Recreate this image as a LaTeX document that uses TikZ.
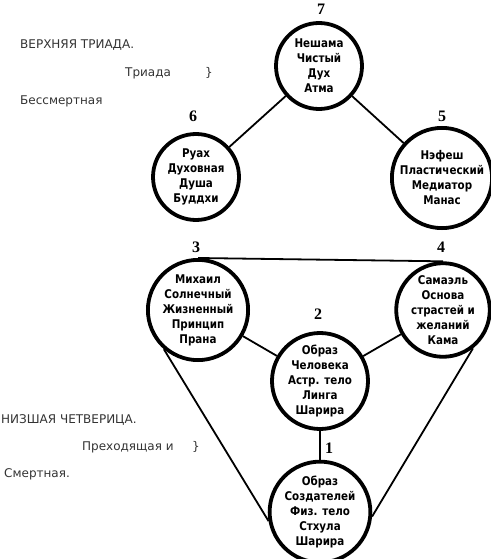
\documentclass[tikz,border=0pt]{standalone}
\usepackage{fontspec}
\setmainfont{DejaVu Sans}
\newfontfamily\numfont{Liberation Serif}
\newfontfamily\circfont[FakeStretch=0.86]{DejaVu Sans}
\begin{document}
\begin{tikzpicture}[x=1pt,y=-1pt,
  circ/.style={circle, draw, fill=white, line width=3.8pt, minimum size=86pt, inner sep=0pt, align=center,
    font=\circfont\bfseries\fontsize{12}{15}\selectfont},
  num/.style={font=\numfont\bfseries\fontsize{16}{16}\selectfont, inner sep=0pt},
  side/.style={anchor=base west, inner sep=0pt, text=black!80, font=\fontsize{12}{14}\selectfont},
  conn/.style={line width=1.8pt}]
\useasboundingbox (0,0) rectangle (490,559);
% circles
\node[circ] (c7) at (319,66) {Нешама\\Чистый\\Дух\\Атма};
\node[circ] (c6) at (196,177) {Руах\\Духовная\\Душа\\Буддхи};
\node[circ] (c5) at (442,178) {Нэфеш\\Пластический\\Медиатор\\Манас};
\node[circ] (c3) at (198,310) {Михаил\\Солнечный\\Жизненный\\Принцип\\Прана};
\node[circ] (c4) at (443,310) {Самаэль\\Основа\\страстей и\\желаний\\Кама};
\node[circ] (c2) at (320,381) {Образ\\Человека\\Астр. тело\\Линга\\Шарира};
\node[circ] (c1) at (320,512) {Образ\\Создателей\\Физ. тело\\Стхула\\Шарира};
% connectors
\draw[conn] (c7) -- (c6);
\draw[conn] (c7) -- (c5);
\draw[conn] (c3) -- (c2);
\draw[conn] (c4) -- (c2);
\draw[conn] (c2) -- (c1);
\draw[conn] (c3.north) -- (c4.north);
\draw[conn] (c3.229) -- (c1.190);
\draw[conn] (c4.308) -- (c1.355);
% numbers
\node[num] (n7) at (321,9) {7};
\node[num] (n6) at (193,116) {6};
\node[num] (n5) at (442,116) {5};
\node[num] (n3) at (196,247) {3};
\node[num] (n4) at (441,247) {4};
\node[num] (n2) at (318,314) {2};
\node[num] (n1) at (329,448) {1};
% side texts
\node[side] (t1) at (20,49) {ВЕРХНЯЯ ТРИАДА.};
\node[side] (t2) at (125,77) {Триада};
\node[side] (t3) at (205,77) {\}};
\node[side] (t4) at (20,105) {Бессмертная};
\node[side] (t5) at (1,423) {НИЗШАЯ ЧЕТВЕРИЦА.};
\node[side] (t6) at (82,450) {Преходящая и};
\node[side] (t7) at (192,450) {\}};
\node[side] (t8) at (4,477) {Смертная.};
\end{tikzpicture}
\end{document}
